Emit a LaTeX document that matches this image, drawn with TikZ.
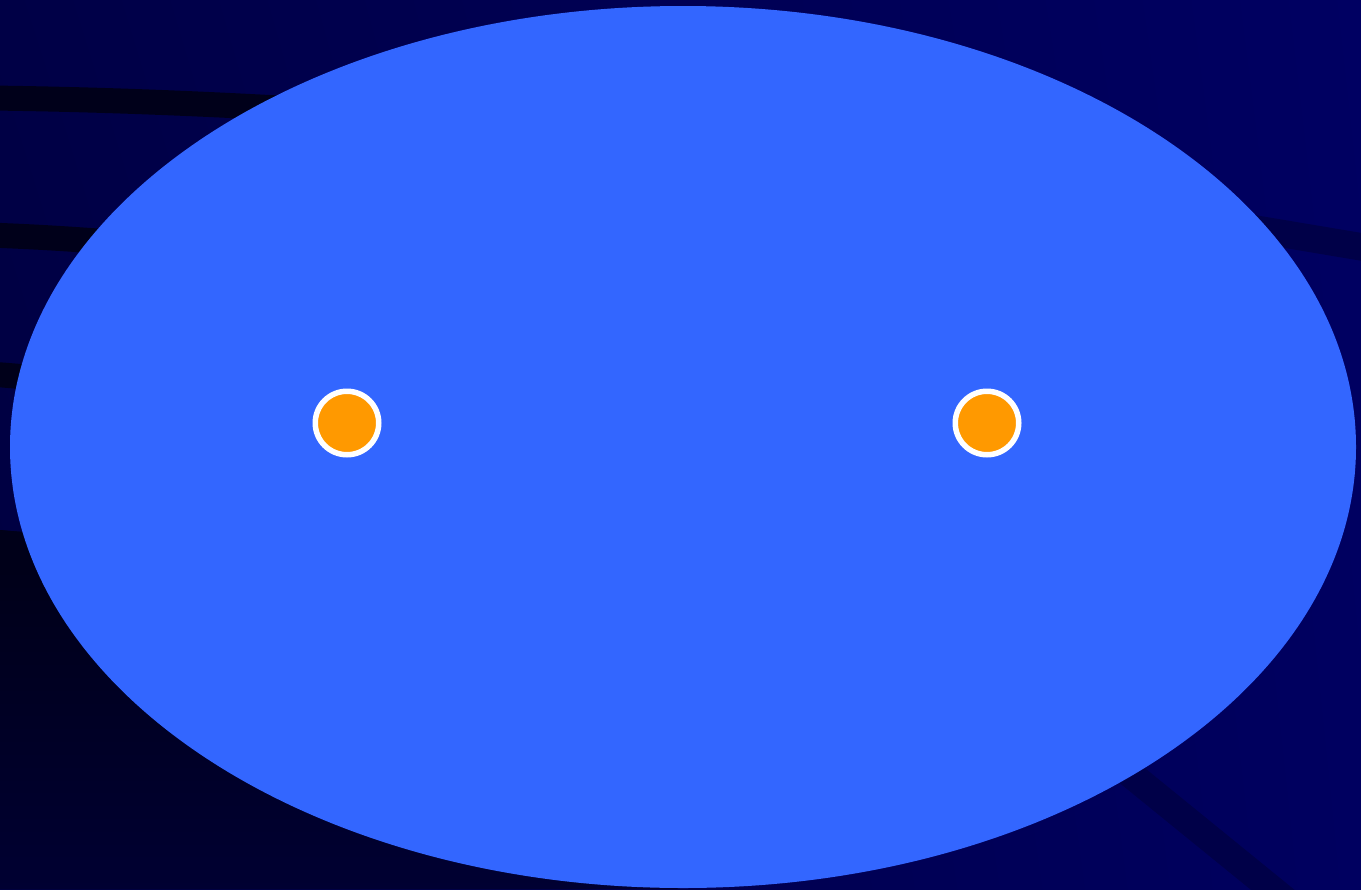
\documentclass[tikz,border=0pt]{standalone}
\usetikzlibrary{positioning,shadings}
\definecolor{skyblue}{HTML}{3366FF}
\definecolor{dotorange}{HTML}{FF9900}
\definecolor{bgtl}{HTML}{000046}
\definecolor{bgtr}{HTML}{000062}
\definecolor{bgbl}{HTML}{000040}
\definecolor{bgbr}{HTML}{000060}
\definecolor{shadetop}{HTML}{000016}
\definecolor{shadebot}{HTML}{000032}
\definecolor{banddark}{HTML}{00001A}
\definecolor{bandmid}{HTML}{000048}
\tikzset{
  orangedot/.style={circle, fill=dotorange, draw=white, line width=0.11cm,
    minimum size=1.27cm, inner sep=0pt},
  darkband/.style={draw=banddark, line width=0.5cm},
  midband/.style={draw=bandmid, line width=0.55cm}
}
\begin{document}
\begin{tikzpicture}[x=0.02cm, y=-0.02cm]
\useasboundingbox (0,0) rectangle (1361,889);
\shade[upper left=bgtl, upper right=bgtr, lower left=bgbl, lower right=bgbr]
  (0,0) rectangle (1361,889);
% dark corner lower left
\shade[top color=shadetop, bottom color=shadebot]
  (0,530) -- (500,575) -- (680,889) -- (0,889) -- cycle;
% bands behind the ellipse
\draw[darkband] (-10,98) .. controls (150,100) and (300,108) .. (500,122);
\draw[darkband] (-10,235) .. controls (60,238) .. (300,256);
\draw[darkband] (-10,374) -- (200,391);
\draw[draw=black!90!blue, line width=0.66cm] (-10,546) -- (200,562);
\draw[midband] (1100,203) -- (1380,250);
\draw[midband] (1000,668) -- (1300,912);
% big ellipse
\fill[skyblue] (683,447) ellipse [x radius=673, y radius=441];
\node[orangedot] (leftdot) at (347,423) {};
\node[orangedot] (rightdot) at (987,423) {};
\end{tikzpicture}
\end{document}
